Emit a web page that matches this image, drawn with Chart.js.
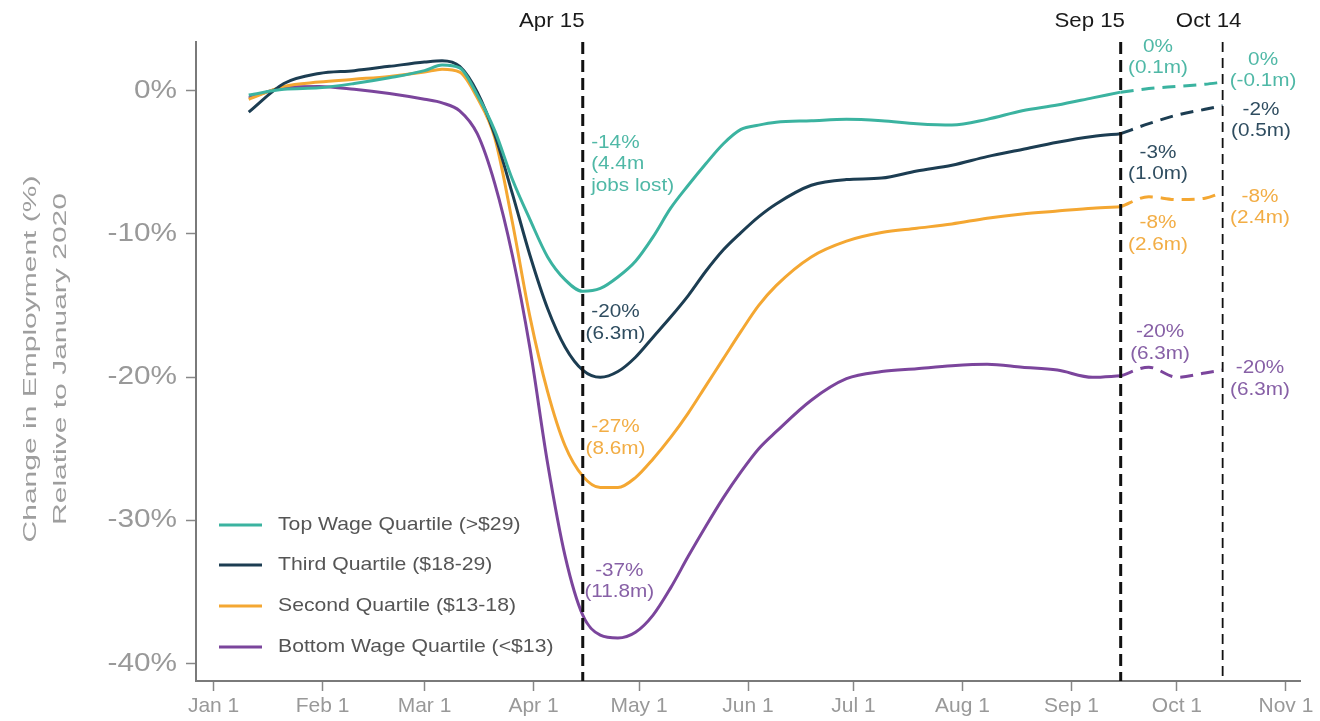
<!DOCTYPE html>
<html>
<head>
<meta charset="utf-8">
<script src="https://cdn.jsdelivr.net/npm/chart.js@4/dist/chart.umd.min.js"></script>
<style>
html,body{margin:0;padding:0;background:#fff;}
#c{display:block;}
</style>
</head>
<body>
<canvas id="c" width="1320" height="721" style="width:1320px;height:721px"></canvas>
<script>
// ---- data (day offsets from Jan 1, 2020; values in %) ----
const days = [10,20,30,40,50,60,65,70,75,80,85,90,95,100,105,110,115,120,125,130,135,140,145,150,155,160,170,180,190,200,210,220,230,240,250,258];
const projDays = [258,266,274,282,287];

const seriesNames = ['Top Wage Quartile (>$29)','Third Quartile ($18-29)','Second Quartile ($13-18)','Bottom Wage Quartile (<$13)'];

const topWage   = [-0.3,0.1,0.2,0.5,0.9,1.4,1.8,1.6,-0.3,-2.8,-6.2,-9.0,-11.6,-13.2,-14.0,-13.8,-13.0,-11.9,-10.2,-8.2,-6.6,-5.1,-3.7,-2.7,-2.4,-2.2,-2.1,-2.0,-2.1,-2.3,-2.4,-2.0,-1.4,-1.0,-0.5,-0.1];
const thirdQ    = [-1.5,0.5,1.2,1.4,1.7,2.0,2.1,1.7,-0.1,-3.1,-7.2,-11.5,-15.2,-17.9,-19.5,-20.0,-19.6,-18.6,-17.2,-15.8,-14.3,-12.6,-11.1,-9.9,-8.8,-7.9,-6.6,-6.2,-6.1,-5.6,-5.2,-4.6,-4.1,-3.6,-3.2,-3.0];
const secondQ   = [-0.6,0.3,0.6,0.8,1.0,1.3,1.5,1.3,-0.5,-3.3,-9.2,-15.8,-21.0,-24.8,-26.9,-27.7,-27.7,-27.0,-25.7,-24.2,-22.5,-20.6,-18.7,-16.8,-15.0,-13.6,-11.6,-10.5,-9.9,-9.6,-9.3,-8.9,-8.6,-8.4,-8.2,-8.1];
const bottomWage= [-0.5,0.2,0.3,0.1,-0.2,-0.6,-0.85,-1.4,-3.0,-6.5,-11.5,-18.0,-26.0,-32.5,-36.6,-38.0,-38.2,-37.8,-36.6,-34.7,-32.5,-30.4,-28.4,-26.6,-25.0,-23.8,-21.6,-20.1,-19.6,-19.4,-19.2,-19.1,-19.3,-19.5,-20.0,-19.9];

const topProj    = [-0.1,0.15,0.3,0.45,0.6];
const thirdProj  = [-3.0,-2.3,-1.7,-1.3,-1.05];
const secondProj = [-8.1,-7.4,-7.6,-7.5,-7.1];
const bottomProj = [-19.9,-19.3,-20.0,-19.7,-19.5];

const markerDays   = [105,258,287];
const markerLabels = ['Apr 15','Sep 15','Oct 14'];

const monthDays   = [0,31,60,91,121,152,182,213,244,274,305];
const monthLabels = ['Jan 1','Feb 1','Mar 1','Apr 1','May 1','Jun 1','Jul 1','Aug 1','Sep 1','Oct 1','Nov 1'];
const yTicks = [0,-10,-20,-30,-40];

// annotation texts
const noteTexts = [
  ['-14%','(4.4m','jobs lost)'],
  ['-20%','(6.3m)'],
  ['-27%','(8.6m)'],
  ['-37%','(11.8m)'],
  ['0%','(0.1m)'],
  ['0%','(-0.1m)'],
  ['-3%','(1.0m)'],
  ['-2%','(0.5m)'],
  ['-8%','(2.6m)'],
  ['-8%','(2.4m)'],
  ['-20%','(6.3m)'],
  ['-20%','(6.3m)']
];

// ---- styles ----
const FONT = '"Liberation Sans", Arial, Helvetica, sans-serif';
const lineColors = ['#3bb3a0','#1c3d52','#f4a732','#7b459c'];
const textColors = ['#4fb8a6','#2f4d60','#f2ad45','#8760a6'];

const solids = [topWage, thirdQ, secondQ, bottomWage];
const projs  = [topProj, thirdProj, secondProj, bottomProj];

const Y_MIN = -41.2, Y_MAX = 3.4;
const datasets = [];

// vertical reference lines
const markerStyles = [
  {w:3, dash:[12,6]},
  {w:3, dash:[12,6]},
  {w:1.8, dash:[10,6]}
];
markerDays.forEach((d,i)=>{
  datasets.push({
    label: markerLabels[i],
    data: [{x:d,y:Y_MAX},{x:d,y:Y_MIN}],
    borderColor:'#111',
    borderWidth: markerStyles[i].w,
    borderDash: markerStyles[i].dash,
    pointRadius:0,
    fill:false,
    order:0
  });
});

solids.forEach((arr,i)=>{
  datasets.push({
    label: seriesNames[i],
    data: days.map((d,k)=>({x:d,y:arr[k]})),
    borderColor: lineColors[i],
    borderWidth: 3,
    pointRadius:0,
    cubicInterpolationMode:'monotone',
    fill:false,
    order:1
  });
  datasets.push({
    label: seriesNames[i] + ' (projected)',
    data: projDays.map((d,k)=>({x:d,y:projs[i][k]})),
    borderColor: lineColors[i],
    borderWidth: 3,
    borderDash:[13,8],
    pointRadius:0,
    cubicInterpolationMode:'monotone',
    fill:false,
    order:1
  });
});

// annotation anchors (data coordinates)
const noteAnchors = [
  {s:0, d:107.4, v:-3.64, align:'left'},
  {s:1, d:114.3, v:-15.45, align:'center'},
  {s:2, d:114.3, v:-23.5, align:'center'},
  {s:3, d:115.4, v:-33.5, align:'center'},
  {s:0, d:268.6, v:3.08, align:'center'},
  {s:0, d:298.5, v:2.17, align:'center'},
  {s:1, d:268.6, v:-4.34, align:'center'},
  {s:1, d:297.9, v:-1.33, align:'center'},
  {s:2, d:268.6, v:-9.23, align:'center'},
  {s:2, d:297.6, v:-7.41, align:'center'},
  {s:3, d:269.2, v:-16.85, align:'center'},
  {s:3, d:297.6, v:-19.37, align:'center'}
];

function sText(ctx, text, x, y, size, color, sx, align){
  ctx.save();
  ctx.font = size + 'px ' + FONT;
  ctx.fillStyle = color;
  ctx.textBaseline = 'middle';
  ctx.textAlign = align;
  ctx.translate(x, y);
  ctx.scale(sx, 1);
  ctx.fillText(text, 0, 0);
  ctx.restore();
}

const decorPlugin = {
  id:'decor',
  afterDatasetsDraw(chart){
    const ctx = chart.ctx;
    const xs = chart.scales.x, ys = chart.scales.y;
    // y tick labels (drawn at the scale's own tick positions)
    ys.ticks.forEach(t=>{
      sText(ctx, t.value + '%', 177, ys.getPixelForValue(t.value), 25, '#999', 1.19, 'right');
    });
    // annotations
    noteAnchors.forEach((a,i)=>{
      const px = xs.getPixelForValue(a.d);
      const py = ys.getPixelForValue(a.v);
      noteTexts[i].forEach((t,k)=>{
        sText(ctx, t, px, py + k*21.5, 18.5, textColors[a.s], 1.12, a.align);
      });
    });
    // marker labels at top
    const offs = [-31,-31,-14];
    markerDays.forEach((d,i)=>{
      const px = xs.getPixelForValue(d) + offs[i];
      sText(ctx, markerLabels[i], px, 21, 21, '#1a1a1a', 1.06, 'center');
    });
    // legend
    const ly = [525,565,606,647];
    seriesNames.forEach((n,i)=>{
      ctx.save();
      ctx.strokeStyle = lineColors[i];
      ctx.lineWidth = 3;
      ctx.beginPath();
      ctx.moveTo(219, ly[i]); ctx.lineTo(262, ly[i]);
      ctx.stroke();
      ctx.restore();
      sText(ctx, n, 278, ly[i], 18.6, '#555', 1.14, 'left');
    });
    // y axis title (rotated)
    ctx.save();
    ctx.font = '30px ' + FONT;
    ctx.fillStyle = '#9e9e9e';
    ctx.textAlign = 'center';
    ctx.textBaseline = 'middle';
    ctx.translate(31, 359);
    ctx.rotate(-Math.PI/2);
    ctx.scale(1, 0.64);
    ctx.fillText('Change in Employment (%)', 0, 0);
    ctx.fillText('Relative to January 2020', 0, 30/0.64);
    ctx.restore();
  }
};

Chart.defaults.font.family = FONT;

new Chart(document.getElementById('c'), {
  type:'line',
  data:{datasets},
  options:{
    responsive:false,
    devicePixelRatio:1,
    animation:false,
    layout:{padding:{top:42,right:20,left:0,bottom:0}},
    plugins:{legend:{display:false},tooltip:{enabled:false}},
    scales:{
      x:{
        type:'linear',
        min:-5, max:309,
        afterBuildTicks:(s)=>{ s.ticks = monthDays.map(v=>({value:v})); },
        afterFit:(s)=>{ s.height = 40; },
        ticks:{
          autoSkip:false, maxRotation:0,
          callback:(v)=>monthLabels[monthDays.indexOf(v)],
          color:'#999', font:{size:21}, padding:3
        },
        grid:{drawOnChartArea:false, drawTicks:true, tickLength:10, tickColor:'#888', tickWidth:1.5},
        border:{display:true, color:'#7a7a7a', width:2}
      },
      y:{
        type:'linear',
        min:Y_MIN, max:Y_MAX,
        afterBuildTicks:(s)=>{ s.ticks = yTicks.map(v=>({value:v})); },
        afterFit:(s)=>{ s.width = 196; },
        ticks:{ display:false, autoSkip:false },
        grid:{drawOnChartArea:false, drawTicks:true, tickLength:10, tickColor:'#888', tickWidth:1.5},
        border:{display:true, color:'#7a7a7a', width:2}
      }
    }
  },
  plugins:[decorPlugin]
});
</script>
</body>
</html>
